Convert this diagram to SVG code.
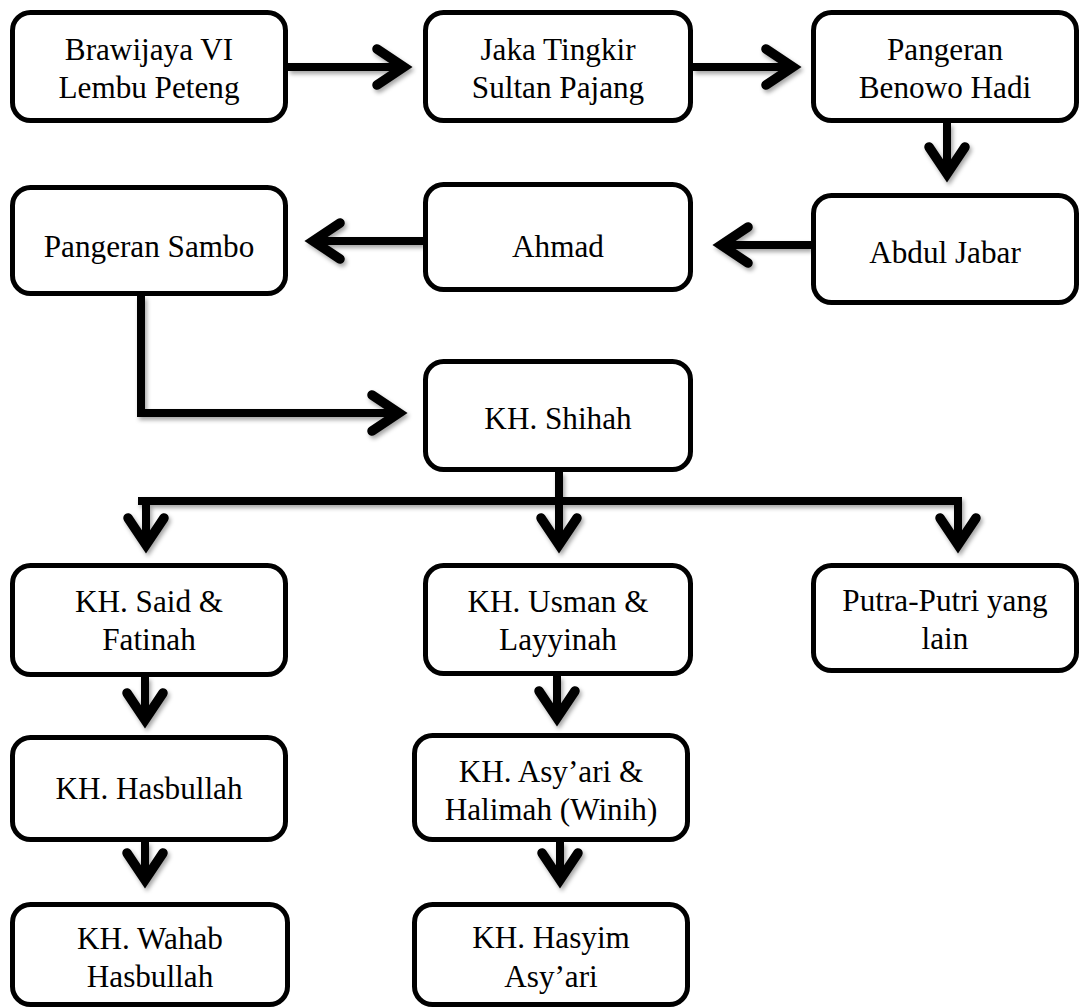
<svg xmlns="http://www.w3.org/2000/svg" width="1082" height="1008" viewBox="0 0 1082 1008">
<style>
.box{fill:#fff;stroke:#000;stroke-width:5}
.t{font-size:31.2px;fill:#000;text-anchor:middle}
.ln{fill:none;stroke:#000;stroke-width:8;stroke-linecap:butt;stroke-linejoin:miter}
</style>
<defs>
<filter id="sh" x="-10%" y="-10%" width="120%" height="120%">
<feDropShadow dx="2" dy="3" stdDeviation="2" flood-color="#000" flood-opacity="0.35"/>
</filter>
<marker id="ah" viewBox="-40 -25 52 50" markerWidth="52" markerHeight="50" refX="0" refY="0" orient="auto" markerUnits="userSpaceOnUse">
<path d="M-27,-18 L0,0 L-27,18" fill="none" stroke="#000" stroke-width="9.5" stroke-linecap="round" stroke-linejoin="miter"/>
</marker>
</defs>
<rect width="1082" height="1008" fill="#fff"/>
<g id="connectors" filter="url(#sh)">
<path class="ln" d="M288,67 H404" marker-end="url(#ah)"/>
<path class="ln" d="M693,67 H793" marker-end="url(#ah)"/>
<path class="ln" d="M947,123 V174" marker-end="url(#ah)"/>
<path class="ln" d="M811,245 H721" marker-end="url(#ah)"/>
<path class="ln" d="M423,241 H313" marker-end="url(#ah)"/>
<path class="ln" d="M141,296 V417 M137,413 H399" marker-end="url(#ah)"/>
<path class="ln" d="M559,472 V505 M138,501 H962"/>
<path class="ln" d="M146,497 V545" marker-end="url(#ah)"/>
<path class="ln" d="M559,501 V545" marker-end="url(#ah)"/>
<path class="ln" d="M958,497 V545" marker-end="url(#ah)"/>
<path class="ln" d="M145,677 V720" marker-end="url(#ah)"/>
<path class="ln" d="M557,676 V718" marker-end="url(#ah)"/>
<path class="ln" d="M145,842 V880" marker-end="url(#ah)"/>
<path class="ln" d="M560,842 V880" marker-end="url(#ah)"/>
</g>
<g font-family="Liberation Serif, Times New Roman, DejaVu Serif, serif">
<g id="n-brawijaya"><rect class="box" x="12.5" y="12.5" width="273" height="108" rx="18"/><text class="t" x="149" y="60">Brawijaya VI</text><text class="t" x="149" y="98">Lembu Peteng</text></g>
<g id="n-jaka"><rect class="box" x="425.5" y="12.5" width="265" height="108" rx="18"/><text class="t" x="558" y="60">Jaka Tingkir</text><text class="t" x="558" y="98">Sultan Pajang</text></g>
<g id="n-benowo"><rect class="box" x="813.5" y="12.5" width="263" height="108" rx="18"/><text class="t" x="945" y="60">Pangeran</text><text class="t" x="945" y="98">Benowo Hadi</text></g>
<g id="n-abdul"><rect class="box" x="813.5" y="195.5" width="263" height="107" rx="18"/><text class="t" x="945" y="263">Abdul Jabar</text></g>
<g id="n-ahmad"><rect class="box" x="425.5" y="184.5" width="265" height="105" rx="18"/><text class="t" x="558" y="257">Ahmad</text></g>
<g id="n-sambo"><rect class="box" x="12.5" y="187.5" width="273" height="106" rx="18"/><text class="t" x="149" y="257">Pangeran Sambo</text></g>
<g id="n-shihah"><rect class="box" x="425.5" y="361.5" width="265" height="108" rx="18"/><text class="t" x="558" y="429">KH. Shihah</text></g>
<g id="n-said"><rect class="box" x="12.5" y="565.5" width="273" height="109" rx="18"/><text class="t" x="149" y="612">KH. Said &amp;</text><text class="t" x="149" y="650">Fatinah</text></g>
<g id="n-usman"><rect class="box" x="425.5" y="565.5" width="265" height="108" rx="18"/><text class="t" x="558" y="612">KH. Usman &amp;</text><text class="t" x="558" y="650">Layyinah</text></g>
<g id="n-putra"><rect class="box" x="813.5" y="565.5" width="263" height="105" rx="18"/><text class="t" x="945" y="611">Putra-Putri yang</text><text class="t" x="945" y="649">lain</text></g>
<g id="n-hasbullah"><rect class="box" x="12.5" y="737.5" width="273" height="102" rx="18"/><text class="t" x="149" y="799">KH. Hasbullah</text></g>
<g id="n-asyari"><rect class="box" x="414.5" y="735.5" width="273" height="104" rx="18"/><text class="t" x="551" y="782">KH. Asy’ari &amp;</text><text class="t" x="551" y="820">Halimah (Winih)</text></g>
<g id="n-wahab"><rect class="box" x="12.5" y="904.5" width="275" height="100" rx="18"/><text class="t" x="150" y="949">KH. Wahab</text><text class="t" x="150" y="987">Hasbullah</text></g>
<g id="n-hasyim"><rect class="box" x="414.5" y="904.5" width="273" height="100" rx="18"/><text class="t" x="551" y="948">KH. Hasyim</text><text class="t" x="551" y="987">Asy’ari</text></g>
</g>
</svg>
